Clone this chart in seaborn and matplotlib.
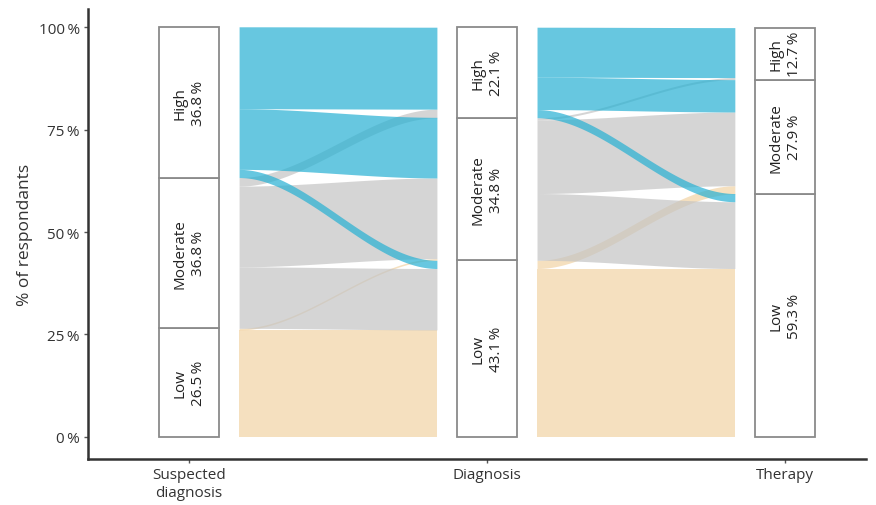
import matplotlib
matplotlib.use("Agg")
import matplotlib.pyplot as plt
import numpy as np
import seaborn as sns

# --- data (percent of respondents) ---
levels = ["Low", "Moderate", "High"]          # bottom -> top
stages = ["Suspected\ndiagnosis", "Diagnosis", "Therapy"]
suspected_pct = [26.5, 36.8, 36.8]
diagnosis_pct = [43.1, 34.8, 22.1]
therapy_pct = [59.3, 27.9, 12.7]

# flows: rows = origin (Low, Moderate, High), cols = destination (Low, Moderate, High)
flow_susp_diag = [[26.1, 0.4, 0.0],
                  [15.0, 19.7, 2.1],
                  [2.0, 14.8, 20.0]]
flow_diag_ther = [[41.1, 2.0, 0.0],
                  [16.3, 18.0, 0.5],
                  [2.0, 7.9, 12.2]]

level_colors = {"Low": "#F2D3A5", "Moderate": "#C4C4C4", "High": "#26B0D3"}

sns.set_theme(style="white")
plt.rcParams["font.family"] = ["Open Sans", "DejaVu Sans"]

fig = plt.figure(figsize=(8.76, 5.06), dpi=100)
ax = fig.add_axes([0.1005, 0.0909, 0.888, 0.889])

box_w = 0.2
flow_gap = 0.168


def smooth(t):
    return t * t * (3 - 2 * t)


def draw_flows(ax, x_left, flows, left_pct, right_pct):
    left_base = np.concatenate([[0], np.cumsum(left_pct)[:-1]])
    right_base = np.concatenate([[0], np.cumsum(right_pct)[:-1]])
    x0, x1 = x_left + flow_gap, x_left + 1 - flow_gap
    xs = np.linspace(x0, x1, 200)
    s = smooth((xs - x0) / (x1 - x0))
    # left side: stack by destination; right side: stack by origin
    left_pos = {}
    for i in range(3):
        y = left_base[i]
        for j in range(3):
            left_pos[(i, j)] = y
            y += flows[i][j]
    right_pos = {}
    for j in range(3):
        y = right_base[j]
        for i in range(3):
            right_pos[(i, j)] = y
            y += flows[i][j]
    for i in range(3):
        for j in range(3):
            v = flows[i][j]
            if v <= 0:
                continue
            yl, yr = left_pos[(i, j)], right_pos[(i, j)]
            lower = yl + (yr - yl) * s
            ax.fill_between(xs, lower, lower + v, color=level_colors[levels[i]],
                            alpha=0.7, linewidth=0, zorder=2)


draw_flows(ax, 1, flow_susp_diag, suspected_pct, diagnosis_pct)
draw_flows(ax, 2, flow_diag_ther, diagnosis_pct, therapy_pct)

# strata boxes
for k, pct in enumerate([suspected_pct, diagnosis_pct, therapy_pct]):
    x = k + 1
    bottoms = np.concatenate([[0], np.cumsum(pct)[:-1]])
    ax.bar([x] * 3, pct, bottom=bottoms, width=box_w, color="white",
           edgecolor="#8a8a8a", linewidth=1.3, zorder=3)
    for lvl, b, p in zip(levels, bottoms, pct):
        ax.text(x, b + p / 2, f"{lvl}\n{p:.1f}\u2009%", rotation=90,
                ha="center", va="center", multialignment="center",
                fontsize=11, color="#222222", zorder=4, linespacing=1.3)

ax.set_xlim(0.661, 3.272)
ax.set_ylim(-5.4, 104.4)
ax.set_xticks([1, 2, 3])
ax.set_xticklabels(stages, fontsize=11, color="#333333", linespacing=1.25)
ax.set_yticks([0, 25, 50, 75, 100])
ax.set_yticklabels([f"{v}\u2009%" for v in [0, 25, 50, 75, 100]], fontsize=11,
                   color="#333333")
ax.set_ylabel("% of respondants", fontsize=12.5, color="#333333")
ax.tick_params(axis="both", length=3, width=1, color="#555555", pad=3,
               left=True, bottom=True)
for side in ["top", "right"]:
    ax.spines[side].set_visible(False)
for side in ["left", "bottom"]:
    ax.spines[side].set_color("#333333")
    ax.spines[side].set_linewidth(1.8)
ax.grid(False)

fig.savefig("out.png", dpi=100)
